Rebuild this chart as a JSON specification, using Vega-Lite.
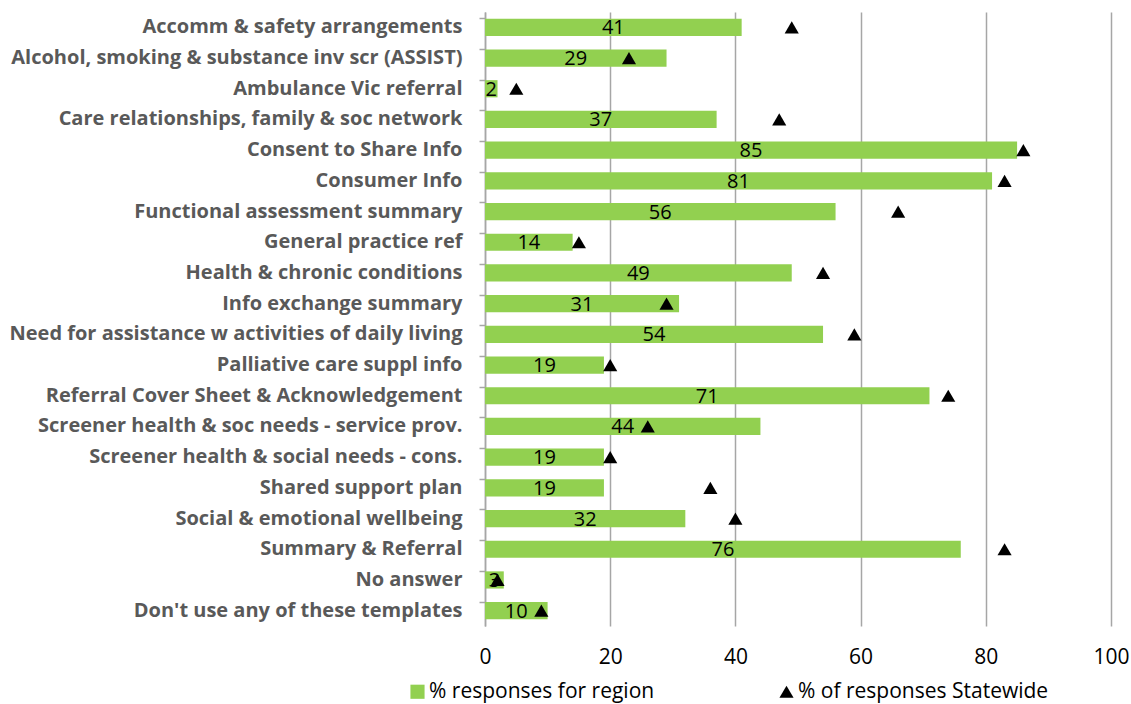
{
  "$schema": "https://vega.github.io/schema/vega-lite/v6.json",
  "width": 626,
  "height": 614,
  "autosize": {"type": "none"},
  "padding": {"left": 485, "top": 12, "right": 20, "bottom": 78},
  "background": "white",
  "config": {"view": {"stroke": null}, "font": "Open Sans"},
  "data": {"values": [
    {"cat": "Accomm & safety arrangements", "region": 41, "state": 49},
    {"cat": "Alcohol, smoking & substance inv scr (ASSIST)", "region": 29, "state": 23},
    {"cat": "Ambulance Vic referral", "region": 2, "state": 5},
    {"cat": "Care relationships, family & soc network", "region": 37, "state": 47},
    {"cat": "Consent to Share Info", "region": 85, "state": 86},
    {"cat": "Consumer Info", "region": 81, "state": 83},
    {"cat": "Functional assessment summary", "region": 56, "state": 66},
    {"cat": "General practice ref", "region": 14, "state": 15},
    {"cat": "Health & chronic conditions", "region": 49, "state": 54},
    {"cat": "Info exchange summary", "region": 31, "state": 29},
    {"cat": "Need for assistance w activities of daily living", "region": 54, "state": 59},
    {"cat": "Palliative care suppl info", "region": 19, "state": 20},
    {"cat": "Referral Cover Sheet & Acknowledgement", "region": 71, "state": 74},
    {"cat": "Screener health & soc needs - service prov.", "region": 44, "state": 26},
    {"cat": "Screener health & social needs - cons.", "region": 19, "state": 20},
    {"cat": "Shared support plan", "region": 19, "state": 36},
    {"cat": "Social & emotional wellbeing", "region": 32, "state": 40},
    {"cat": "Summary & Referral", "region": 76, "state": 83},
    {"cat": "No answer", "region": 3, "state": 2},
    {"cat": "Don't use any of these templates", "region": 10, "state": 9}
  ]},
  "transform": [
    {"calculate": "datum.region / 2", "as": "mid"}
  ],
  "encoding": {
    "y": {
      "field": "cat", "type": "nominal", "sort": null, "title": null,
      "scale": {"paddingInner": 0.44, "paddingOuter": 0.22},
      "axis": {
        "labelFont": "Open Sans", "labelFontSize": 20, "labelFontWeight": "bold", "labelColor": "#595959",
        "labelLimit": 600, "labelPadding": 17, "domainColor": "#A6A6A6", "domainWidth": 1.5,
        "tickColor": "#A6A6A6", "tickWidth": 1.5, "tickSize": 6, "bandPosition": 0
      }
    }
  },
  "layer": [
    {
      "mark": {"type": "bar"},
      "encoding": {
        "x": {
          "field": "region", "type": "quantitative", "title": null,
          "scale": {"domain": [0, 100]},
          "axis": {
            "values": [0, 20, 40, 60, 80, 100], "domain": false, "ticks": false, "labelFlush": false,
            "gridColor": "#A6A6A6", "gridWidth": 1.5, "labelFont": "Open Sans", "labelFontSize": 21,
            "labelColor": "#000000", "labelPadding": 20
          }
        },
        "color": {
          "datum": "% responses for region", "type": "nominal",
          "scale": {"domain": ["% responses for region", "% of responses Statewide"], "range": ["#92D050", "#000000"]},
          "legend": {
            "orient": "none", "legendX": -78, "legendY": 669, "direction": "horizontal", "title": null,
            "labelFont": "Open Sans", "labelFontSize": 21, "labelColor": "#000000", "symbolSize": 200,
            "columnPadding": 121, "labelOffset": 1, "labelLimit": 400, "symbolStrokeWidth": 0
          }
        }
      }
    },
    {
      "mark": {"type": "text", "font": "Open Sans", "fontSize": 20, "color": "#000000", "baseline": "middle", "dy": 1},
      "encoding": {
        "x": {"field": "mid", "type": "quantitative"},
        "text": {"field": "region", "type": "quantitative"}
      }
    },
    {
      "mark": {"type": "point", "filled": true, "opacity": 1, "size": 200},
      "encoding": {
        "x": {"field": "state", "type": "quantitative"},
        "color": {"datum": "% of responses Statewide", "type": "nominal"},
        "shape": {
          "datum": "% of responses Statewide", "type": "nominal",
          "scale": {"domain": ["% responses for region", "% of responses Statewide"], "range": ["square", "triangle-up"]}
        }
      }
    }
  ]
}
